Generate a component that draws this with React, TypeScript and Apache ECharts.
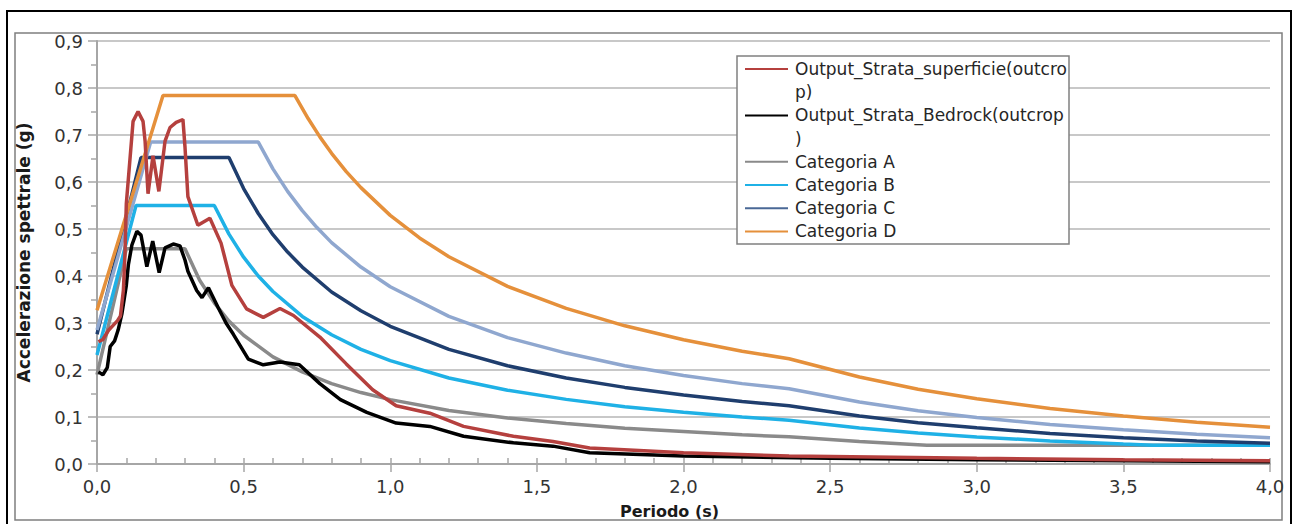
import React, { useEffect, useRef } from "react";
import * as echarts from "echarts";

// ---- Data ----
const SERIES_NAMES = [
  "Output_Strata_superficie(outcrop)",
  "Output_Strata_Bedrock(outcrop)",
  "Categoria A",
  "Categoria B",
  "Categoria C",
  "Categoria D",
];
const LEGEND_LABELS = [
  "Output_Strata_superficie(outcro\np)",
  "Output_Strata_Bedrock(outcrop\n)",
  "Categoria A",
  "Categoria B",
  "Categoria C",
  "Categoria D",
];

const surfT = [0.005, 0.02, 0.04, 0.055, 0.07, 0.08, 0.09, 0.095, 0.1, 0.123, 0.14, 0.157, 0.164, 0.174, 0.191, 0.211, 0.232, 0.249, 0.27, 0.293, 0.3, 0.31, 0.344, 0.385, 0.423, 0.46, 0.51, 0.567, 0.624, 0.67, 0.76, 0.85, 0.94, 1.02, 1.135, 1.25, 1.42, 1.555, 1.68, 2.0, 2.36, 3.0, 3.5, 4.0];
const surfV = [0.26, 0.265, 0.285, 0.295, 0.305, 0.315, 0.37, 0.44, 0.554, 0.729, 0.75, 0.729, 0.687, 0.575, 0.656, 0.58, 0.687, 0.716, 0.727, 0.733, 0.675, 0.569, 0.508, 0.523, 0.47, 0.38, 0.33, 0.312, 0.331, 0.316, 0.27, 0.213, 0.158, 0.124, 0.108, 0.08, 0.059, 0.048, 0.034, 0.024, 0.017, 0.012, 0.009, 0.007];

const bedT = [0.005, 0.02, 0.035, 0.045, 0.06, 0.072, 0.085, 0.09, 0.1, 0.107, 0.119, 0.136, 0.15, 0.17, 0.19, 0.212, 0.232, 0.26, 0.283, 0.3, 0.31, 0.34, 0.358, 0.38, 0.413, 0.44, 0.465, 0.516, 0.567, 0.624, 0.69, 0.76, 0.83, 0.92, 1.02, 1.135, 1.25, 1.42, 1.555, 1.68, 2.0, 2.5, 3.0, 3.5, 4.0];
const bedV = [0.196, 0.19, 0.205, 0.25, 0.262, 0.285, 0.32, 0.34, 0.38, 0.424, 0.466, 0.495, 0.487, 0.42, 0.474, 0.407, 0.46, 0.468, 0.464, 0.434, 0.41, 0.369, 0.354, 0.375, 0.333, 0.3, 0.276, 0.223, 0.211, 0.217, 0.211, 0.171, 0.137, 0.11, 0.087, 0.08, 0.059, 0.045, 0.038, 0.024, 0.017, 0.012, 0.009, 0.007, 0.005];

const catAT = [0, 0.1, 0.3, 0.35, 0.4, 0.45, 0.5, 0.6, 0.7, 0.8, 0.9, 1.0, 1.2, 1.4, 1.6, 1.8, 2.0, 2.2, 2.36, 2.6, 2.83, 3.0, 3.5, 4.0];
const catAV = [0.19, 0.458, 0.458, 0.391, 0.343, 0.304, 0.274, 0.228, 0.196, 0.171, 0.152, 0.137, 0.114, 0.098, 0.086, 0.076, 0.069, 0.062, 0.058, 0.048, 0.04, 0.04, 0.04, 0.04];

const catBT = [0, 0.133, 0.4, 0.45, 0.5, 0.55, 0.6, 0.7, 0.8, 0.9, 1.0, 1.2, 1.4, 1.6, 1.8, 2.0, 2.2, 2.36, 2.6, 2.8, 3.0, 3.25, 3.5, 3.6, 4.0];
const catBV = [0.232, 0.55, 0.55, 0.489, 0.44, 0.4, 0.367, 0.314, 0.275, 0.244, 0.22, 0.183, 0.157, 0.1375, 0.122, 0.11, 0.1, 0.0932, 0.0768, 0.0662, 0.0577, 0.0491, 0.0423, 0.04, 0.04];

const catCT = [0, 0.15, 0.45, 0.5, 0.55, 0.6, 0.65, 0.7, 0.8, 0.9, 1.0, 1.2, 1.4, 1.6, 1.8, 2.0, 2.2, 2.36, 2.6, 2.8, 3.0, 3.25, 3.5, 3.75, 4.0];
const catCV = [0.276, 0.652, 0.652, 0.586, 0.533, 0.488, 0.451, 0.419, 0.366, 0.326, 0.293, 0.244, 0.209, 0.183, 0.163, 0.147, 0.133, 0.124, 0.102, 0.088, 0.077, 0.065, 0.056, 0.049, 0.044];

// unlabelled extra spectrum (light steel blue, not in the legend)
const extraT = [0, 0.183, 0.55, 0.6, 0.65, 0.7, 0.75, 0.8, 0.9, 1.0, 1.2, 1.4, 1.6, 1.8, 2.0, 2.2, 2.36, 2.6, 2.8, 3.0, 3.25, 3.5, 3.75, 4.0];
const extraV = [0.285, 0.685, 0.685, 0.628, 0.58, 0.539, 0.503, 0.471, 0.419, 0.377, 0.314, 0.269, 0.236, 0.209, 0.1885, 0.171, 0.16, 0.132, 0.1135, 0.099, 0.084, 0.0727, 0.0633, 0.0556];

const catDT = [0, 0.225, 0.675, 0.72, 0.76, 0.8, 0.85, 0.9, 1.0, 1.1, 1.2, 1.4, 1.6, 1.8, 2.0, 2.2, 2.36, 2.6, 2.8, 3.0, 3.25, 3.5, 3.75, 4.0];
const catDV = [0.327, 0.784, 0.784, 0.735, 0.696, 0.661, 0.622, 0.588, 0.529, 0.481, 0.441, 0.378, 0.331, 0.294, 0.2645, 0.24, 0.224, 0.185, 0.159, 0.139, 0.118, 0.102, 0.0888, 0.078];

const X_MIN = 0;
const X_MAX = 4;
const X_STEP = 0.5;
const Y_MIN = 0;
const Y_MAX = 0.9;
const Y_STEP = 0.1;
const X_TITLE = "Periodo (s)";
const Y_TITLE = "Accelerazione spettrale (g)";

const COLORS = {
  red: "#b5403e",
  black: "#000000",
  gray: "#8a8a8a",
  blue: "#1fb1e6",
  navy: "#1f3e6e",
  steel: "#8fa7cf",
  orange: "#e5903b",
};

const zip = (t: number[], v: number[]) => t.map((x, i) => [x, v[i]]);
const fmt = (v: number) => v.toFixed(1).replace(".", ",");
const FONT = '"DejaVu Sans", Verdana, sans-serif';

export default function App() {
  const ref = useRef<HTMLDivElement>(null);

  useEffect(() => {
    if (!ref.current) return;
    const chart = echarts.init(ref.current, undefined, { renderer: "svg" });

    const line = (name: string, data: number[][], color: string, width = 3.5) => ({
      name,
      type: "line",
      data,
      showSymbol: false,
      symbol: "none",
      lineStyle: { color, width },
      itemStyle: { color },
      xAxisIndex: 0,
      yAxisIndex: 0,
    });

    const legendColors = [COLORS.red, COLORS.black, COLORS.gray, COLORS.blue, "#4a6896", COLORS.orange];
    const legendGraphics: any[] = [
      {
        type: "rect",
        shape: { x: 737, y: 56, width: 332, height: 188 },
        style: { fill: "#ffffff", stroke: "#808080", lineWidth: 1.5 },
        z: 100,
      },
    ];
    let rowY = 69;
    const ROW = 23.2;
    LEGEND_LABELS.forEach((label, i) => {
      legendGraphics.push({
        type: "line",
        shape: { x1: 745, y1: rowY, x2: 788, y2: rowY },
        style: { stroke: legendColors[i], lineWidth: 2 },
        z: 101,
      });
      legendGraphics.push({
        type: "text",
        x: 795,
        y: rowY - ROW / 2,
        style: {
          text: label,
          font: `17px ${FONT}`,
          fill: "#262626",
          verticalAlign: "top",
          lineHeight: ROW,
        },
        z: 101,
      });
      rowY += ROW * label.split("\n").length;
    });

    chart.setOption({
      animation: false,
      backgroundColor: "#ffffff",
      grid: { left: 97, right: 23, top: 41, bottom: 56, containLabel: false },
      xAxis: [
        {
          type: "value",
          min: X_MIN,
          max: X_MAX,
          interval: X_STEP,
          position: "bottom",
          name: X_TITLE,
          nameLocation: "middle",
          nameGap: 39,
          nameTextStyle: {
            fontFamily: FONT,
            fontSize: 16,
            fontWeight: "bold",
            color: "#1a1a1a",
            padding: [0, 28, 0, 0],
          },
          axisLine: { show: true, lineStyle: { color: "#a6a6a6", width: 2 } },
          axisTick: { show: true, inside: false, length: 8, lineStyle: { color: "#a6a6a6", width: 1.5 } },
          axisLabel: { formatter: fmt, fontFamily: FONT, fontSize: 18, color: "#333333", margin: 13 },
          splitLine: { show: false },
        },
        {
          type: "value",
          min: X_MIN,
          max: X_MAX,
          interval: 0.1,
          position: "bottom",
          axisLine: { show: false },
          axisTick: { show: true, inside: true, length: 6, lineStyle: { color: "#a6a6a6", width: 1.5 } },
          axisLabel: { show: false },
          splitLine: { show: false },
        },
      ],
      yAxis: {
        type: "value",
        min: Y_MIN,
        max: Y_MAX,
        interval: Y_STEP,
        name: Y_TITLE,
        nameLocation: "middle",
        nameGap: 65,
        nameTextStyle: { fontFamily: FONT, fontSize: 17, fontWeight: "bold", color: "#1a1a1a" },
        axisLine: { show: true, lineStyle: { color: "#a6a6a6", width: 2 } },
        axisTick: { show: true, inside: false, length: 9, lineStyle: { color: "#a6a6a6", width: 1.5 } },
        minorTick: { show: true, splitNumber: 2, length: 6, lineStyle: { color: "#a6a6a6", width: 1.5 } },
        axisLabel: { formatter: fmt, fontFamily: FONT, fontSize: 18, color: "#333333", margin: 14 },
        splitLine: { show: true, lineStyle: { color: "#c8c8c8", width: 2 } },
      },
      graphic: [
        {
          type: "rect",
          shape: { x: 7, y: 11, width: 1284, height: 530 },
          style: { fill: "none", stroke: "#000000", lineWidth: 2 },
          silent: true,
        },
        {
          type: "rect",
          shape: { x: 15, y: 33, width: 1267, height: 487 },
          style: { fill: "none", stroke: "#7f7f7f", lineWidth: 1.5 },
          silent: true,
        },
        ...legendGraphics,
      ],
      series: [
        line(SERIES_NAMES[2], zip(catAT, catAV), COLORS.gray),
        line(SERIES_NAMES[3], zip(catBT, catBV), COLORS.blue),
        line(SERIES_NAMES[4], zip(catCT, catCV), COLORS.navy),
        line("", zip(extraT, extraV), COLORS.steel),
        line(SERIES_NAMES[5], zip(catDT, catDV), COLORS.orange),
        line(SERIES_NAMES[1], zip(bedT, bedV), COLORS.black),
        line(SERIES_NAMES[0], zip(surfT, surfV), COLORS.red),
      ],
    });

    return () => chart.dispose();
  }, []);

  return (
    <div
      ref={ref}
      style={{ position: "fixed", left: 0, top: 0, width: 1293, height: 524, background: "#fff" }}
    />
  );
}
